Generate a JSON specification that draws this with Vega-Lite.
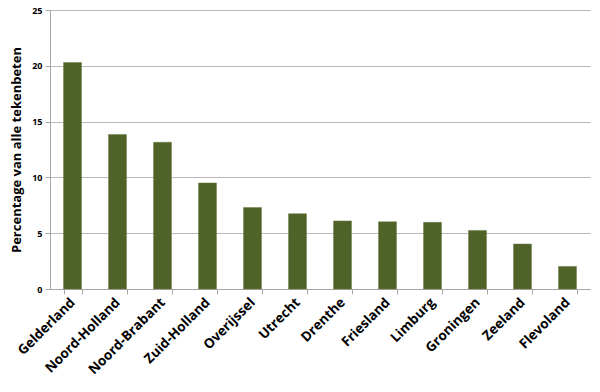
{
  "$schema": "https://vega.github.io/schema/vega-lite/v6.json",
  "width": 540,
  "height": 279,
  "autosize": {"type": "none"},
  "padding": {"left": 50, "top": 10, "right": 10, "bottom": 103},
  "background": "white",
  "config": {"view": {"stroke": null}, "font": "Open Sans"},
  "data": {"values": [
    {"provincie": "Gelderland", "pct": 20.3},
    {"provincie": "Noord-Holland", "pct": 13.85},
    {"provincie": "Noord-Brabant", "pct": 13.15},
    {"provincie": "Zuid-Holland", "pct": 9.5},
    {"provincie": "Overijssel", "pct": 7.3},
    {"provincie": "Utrecht", "pct": 6.75},
    {"provincie": "Drenthe", "pct": 6.1},
    {"provincie": "Friesland", "pct": 6.02},
    {"provincie": "Limburg", "pct": 5.97},
    {"provincie": "Groningen", "pct": 5.25},
    {"provincie": "Zeeland", "pct": 4.03},
    {"provincie": "Flevoland", "pct": 2.02}
  ]},
  "mark": {"type": "bar", "color": "#4f6228", "stroke": "#6b7f45", "strokeWidth": 0.5},
  "encoding": {
    "x": {
      "field": "provincie", "type": "nominal", "sort": null,
      "scale": {"paddingInner": 0.6, "paddingOuter": 0.3},
      "axis": {
        "title": null, "labelAngle": -45, "labelFontWeight": "bold", "labelFontSize": 13.5,
        "labelColor": "#000", "labelPadding": 6, "labelAlign": "right", "labelBaseline": "middle",
        "domainColor": "#a6a6a6", "tickColor": "#a6a6a6", "tickBand": "extent", "tickSize": 5,
        "labelFont": "Open Sans"
      }
    },
    "y": {
      "field": "pct", "type": "quantitative",
      "scale": {"domain": [0, 25]},
      "axis": {
        "title": "Percentage van alle tekenbeten", "titleFontSize": 13, "titleFontWeight": "bold",
        "titleColor": "#000", "titlePadding": 8,
        "values": [0, 5, 10, 15, 20, 25], "labelFontSize": 9, "labelFontWeight": "bold",
        "labelColor": "#000", "labelPadding": 3,
        "grid": true, "gridColor": "#b8b8b8", "domainColor": "#a6a6a6", "tickColor": "#a6a6a6", "tickSize": 5
      }
    }
  }
}
